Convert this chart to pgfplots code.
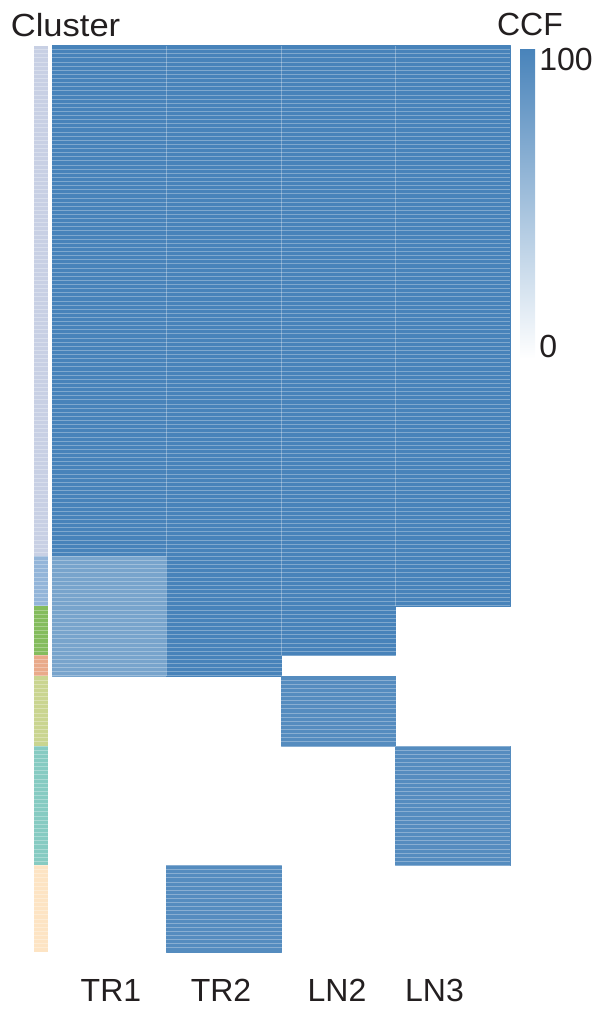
\documentclass[border=0pt]{standalone}
\usepackage{fontspec}
\setmainfont{Liberation Sans}
\usepackage{pgfplots}
\pgfplotsset{compat=1.18}
\definecolor{hmblue}{RGB}{72,131,186}
\definecolor{txt}{RGB}{35,31,32}
\definecolor{cA}{RGB}{200,208,228}
\definecolor{cB}{RGB}{147,181,217}
\definecolor{cC}{RGB}{132,188,93}
\definecolor{cD}{RGB}{233,170,138}
\definecolor{cE}{RGB}{202,213,144}
\definecolor{cF}{RGB}{134,203,194}
\definecolor{cG}{RGB}{253,228,196}
\newcommand{\fnt}{\fontsize{16bp}{19bp}\selectfont}
\begin{document}
\begin{tikzpicture}[font=\fnt, text=txt]
\path[use as bounding box] (0,0) rectangle (299bp,-505.5bp);
\begin{axis}[
  at={(26bp,-22.75bp)}, anchor=north west,
  scale only axis, width=229bp, height=453.25bp,
  xmin=0, xmax=4, ymin=0, ymax=220, y dir=reverse,
  clip=false,
  axis line style={draw=none},
  major tick length=0pt,
  xtick={0.515,1.476,2.489,3.341},
  xticklabels={TR1,TR2,LN2,LN3},
  xticklabel style={anchor=base, yshift=-24.5bp, inner sep=0pt, font=\fnt, text=txt},
  ytick=\empty,
  colormap={ccf}{rgb255(0)=(255,255,255) rgb255(1)=(72,131,186)},
  point meta min=0, point meta max=100,
  colorbar,
  colorbar style={
    at={(parent axis.north east)}, anchor=north west,
    xshift=-3.5bp, yshift=-1.35bp,
    scale only axis, width=7.5bp, height=155.2bp,
    axis line style={draw=none},
    major tick length=0pt,
    ytick={0.4,92.8}, yticklabels={0,100},
    yticklabel style={anchor=base west, inner sep=0pt, xshift=2bp, font=\fnt, text=txt},
  },
]
% CCF heatmap: one rectangle per cluster x sample (rows: 0-124 C1, 124-136 C2, 136-148 C3, 148-153 C4, 153-170 C5, 170-199 C6, 199-220 C7)
\addplot[patch, patch type=rectangle, shader=flat] table[point meta=\thisrow{c}] {
x y c
0 0 100
1 0 100
1 124 100
0 124 100
1 0 100
2 0 100
2 124 100
1 124 100
2 0 100
3 0 100
3 124 100
2 124 100
3 0 100
4 0 100
4 124 100
3 124 100
0 124 73
1 124 73
1 136 73
0 136 73
1 124 100
2 124 100
2 136 100
1 136 100
2 124 100
3 124 100
3 136 100
2 136 100
3 124 100
4 124 100
4 136 100
3 136 100
0 136 73
1 136 73
1 148 73
0 148 73
1 136 100
2 136 100
2 148 100
1 148 100
2 136 100
3 136 100
3 148 100
2 148 100
0 148 73
1 148 73
1 153 73
0 153 73
1 148 100
2 148 100
2 153 100
1 153 100
2 153 92
3 153 92
3 170 92
2 170 92
3 170 92
4 170 92
4 199 92
3 199 92
1 199 92
2 199 92
2 220 92
1 220 92
};
% cluster annotation bar
\addplot[fill=cA, draw=none] coordinates {(-0.157,0) (-0.031,0) (-0.031,124) (-0.157,124)};
\addplot[fill=cB, draw=none] coordinates {(-0.157,124) (-0.031,124) (-0.031,136) (-0.157,136)};
\addplot[fill=cC, draw=none] coordinates {(-0.157,136) (-0.031,136) (-0.031,148) (-0.157,148)};
\addplot[fill=cD, draw=none] coordinates {(-0.157,148) (-0.031,148) (-0.031,153) (-0.157,153)};
\addplot[fill=cE, draw=none] coordinates {(-0.157,153) (-0.031,153) (-0.031,170) (-0.157,170)};
\addplot[fill=cF, draw=none] coordinates {(-0.157,170) (-0.031,170) (-0.031,199) (-0.157,199)};
\addplot[fill=cG, draw=none] coordinates {(-0.157,199) (-0.031,199) (-0.031,220) (-0.157,220)};
% row separators (light stripes) and column separators
\pgfplotsinvokeforeach{1,...,219}{
  \draw[white, opacity=0.3, line width=0.45bp] (axis cs:-0.157,#1) -- (axis cs:4,#1);
}
\draw[white, opacity=0.3, line width=0.5bp] (axis cs:1,0) -- (axis cs:1,153);
\draw[white, opacity=0.3, line width=0.5bp] (axis cs:2,0) -- (axis cs:2,148);
\draw[white, opacity=0.3, line width=0.5bp] (axis cs:3,0) -- (axis cs:3,136);
\end{axis}
\node[anchor=base west, inner sep=0pt] at (5.2bp,-18bp) {\scalebox{1.08}[1]{Cluster}};
\node[anchor=base, inner sep=0pt] at (265bp,-17.5bp) {CCF};
\end{tikzpicture}
\end{document}
